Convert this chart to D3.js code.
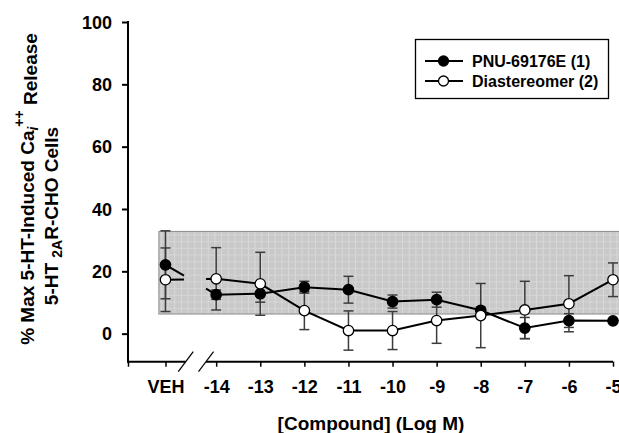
<!DOCTYPE html>
<html>
<head>
<meta charset="utf-8">
<script src="https://cdn.jsdelivr.net/npm/d3@7"></script>
<style>
  html, body { margin: 0; padding: 0; background: #fff; }
  svg { display: block; }
  text { font-family: "Liberation Sans", Arial, Helvetica, sans-serif; font-weight: bold; fill: #000; }
</style>
</head>
<body>
<svg id="chart" width="619" height="433"></svg>
<script>
// ---- data ----
const xLabels = ["VEH", "-14", "-13", "-12", "-11", "-10", "-9", "-8", "-7", "-6", "-5"];
const xPos    = [-15.15, -14, -13, -12, -11, -10, -9, -8, -7, -6, -5];
const pnuMean = [22.1, 12.5, 12.8, 14.9, 14.1, 10.3, 10.9, 7.5, 1.8, 4.2, 4.1];
const pnuErr  = [10.9, 1.5, 2.7, 1.9, 4.3, 2.1, 2.4, 1.0, 3.4, 2.2, 0.5];
const diaMean = [17.3, 17.6, 16.0, 7.4, 1.0, 1.0, 4.2, 5.8, 7.6, 9.6, 17.3];
const diaErr  = [10.2, 10.0, 10.1, 6.1, 6.3, 6.1, 7.3, 10.3, 9.2, 9.0, 5.4];
const yTicks  = [0, 20, 40, 60, 80, 100];
const bandY   = [6.3, 32.8];
const bandX   = [-15.3, -4.8];
const axisBreak = [-14.69, -14.23];
const seriesNames = ["PNU-69176E (1)", "Diastereomer (2)"];

// ---- layout ----
const svg = d3.select("#chart");
const x = d3.scaleLinear().domain([-16, -5]).range([128, 613]);
const y = d3.scaleLinear().domain([-9, 100]).range([361.7, 22]);

// pattern for band
const defs = svg.append("defs");
const pat = defs.append("pattern").attr("id", "grid").attr("patternUnits", "userSpaceOnUse")
  .attr("width", 6.7).attr("height", 6.7);
pat.append("rect").attr("width", 6.7).attr("height", 6.7).attr("fill", "#c9c9c9");
pat.append("line").attr("x1", 0.5).attr("x2", 0.5).attr("y1", 0).attr("y2", 6.7).attr("stroke", "#d9d9d9").attr("stroke-width", 1);
pat.append("line").attr("x1", 0).attr("x2", 6.7).attr("y1", 0.5).attr("y2", 0.5).attr("stroke", "#d6d6d6").attr("stroke-width", 1);

// band
svg.append("rect")
  .attr("x", x(bandX[0])).attr("y", y(bandY[1]))
  .attr("width", x(bandX[1]) - x(bandX[0]))
  .attr("height", y(bandY[0]) - y(bandY[1]))
  .attr("fill", "url(#grid)")
  .attr("stroke", "#8c8c8c").attr("stroke-width", 1);

// y axis
const yAxis = d3.axisLeft(y).tickValues(yTicks).tickSize(6).tickPadding(10);
const gy = svg.append("g").attr("transform", `translate(${x(-16)},0)`).call(yAxis);
gy.select(".domain").remove();
gy.selectAll(".tick line").attr("stroke", "#000").attr("stroke-width", 2);
gy.selectAll(".tick text").style("font-size", "18px").attr("dy", "0.34em");
svg.append("line").attr("x1", x(-16)).attr("x2", x(-16)).attr("y1", y(100) - 1).attr("y2", y(-9) + 1)
  .attr("stroke", "#000").attr("stroke-width", 2);

// x axis
const tickVals = [-16].concat(xPos);
const labelMap = new Map(xPos.map((p, i) => [p, xLabels[i]]));
const xAxis = d3.axisBottom(x).tickValues(tickVals).tickSize(5).tickPadding(14)
  .tickFormat(d => labelMap.get(d) || "");
const gx = svg.append("g").attr("transform", `translate(0,${y(-9)})`).call(xAxis);
gx.select(".domain").remove();
gx.selectAll(".tick line").attr("stroke", "#000").attr("stroke-width", 1.5);
gx.selectAll(".tick text").style("font-size", "18px");
// axis line with break
svg.append("line").attr("x1", x(-16) - 1).attr("x2", x(axisBreak[0])).attr("y1", y(-9)).attr("y2", y(-9))
  .attr("stroke", "#000").attr("stroke-width", 2);
svg.append("line").attr("x1", x(axisBreak[1])).attr("x2", x(-5)).attr("y1", y(-9)).attr("y2", y(-9))
  .attr("stroke", "#000").attr("stroke-width", 2);
axisBreak.forEach(b => {
  svg.append("line")
    .attr("x1", x(b) - 7.5).attr("y1", y(-9) + 10)
    .attr("x2", x(b) + 7.5).attr("y2", y(-9) - 10)
    .attr("stroke", "#000").attr("stroke-width", 1.2);
});

// series
const series = [
  { name: seriesNames[0], mean: pnuMean, err: pnuErr, fill: "#000" },
  { name: seriesNames[1], mean: diaMean, err: diaErr, fill: "#fff" }
];

// error bars
const capW = 5;
series.forEach(s => {
  const g = svg.append("g");
  xPos.forEach((p, i) => {
    const cx = x(p), top = y(s.mean[i] + s.err[i]), bot = y(s.mean[i] - s.err[i]);
    g.append("line").attr("x1", cx).attr("x2", cx).attr("y1", top).attr("y2", bot)
      .attr("stroke", "#3c3c3c").attr("stroke-width", 1.5);
    [top, bot].forEach(yy => g.append("line").attr("x1", cx - capW).attr("x2", cx + capW)
      .attr("y1", yy).attr("y2", yy).attr("stroke", "#3c3c3c").attr("stroke-width", 1.5));
  });
});

// lines (with break between VEH and -14)
const line = d3.line().x(d => x(d[0])).y(d => y(d[1]));
function interp(p0, v0, p1, v1, p) { return v0 + (v1 - v0) * (p - p0) / (p1 - p0); }
series.forEach(s => {
  const v0 = s.mean[0], v1 = s.mean[1], p0 = xPos[0], p1 = xPos[1];
  const seg1 = [[p0, v0], [axisBreak[0] - 0.04, interp(p0, v0, p1, v1, axisBreak[0] - 0.04)]];
  const seg2 = [[axisBreak[1], interp(p0, v0, p1, v1, axisBreak[1])]]
    .concat(xPos.slice(1).map((p, i) => [p, s.mean[i + 1]]));
  [seg1, seg2].forEach(seg => svg.append("path").attr("d", line(seg))
    .attr("fill", "none").attr("stroke", "#000").attr("stroke-width", 2));
});

// markers
series.forEach(s => {
  svg.append("g").selectAll("circle").data(xPos).join("circle")
    .attr("cx", d => x(d)).attr("cy", (d, i) => y(s.mean[i])).attr("r", 5.2)
    .attr("fill", s.fill).attr("stroke", "#000").attr("stroke-width", 1.3);
});

// legend
const lg = svg.append("g");
lg.append("rect").attr("x", 415.5).attr("y", 39.5).attr("width", 193).attr("height", 59)
  .attr("fill", "#fff").attr("stroke", "#000").attr("stroke-width", 1.3);
series.forEach((s, i) => {
  const yy = 61 + i * 20;
  lg.append("line").attr("x1", 425).attr("x2", 463).attr("y1", yy).attr("y2", yy)
    .attr("stroke", "#000").attr("stroke-width", 2);
  lg.append("circle").attr("cx", 443.5).attr("cy", yy).attr("r", 5)
    .attr("fill", s.fill).attr("stroke", "#000").attr("stroke-width", 1.3);
  lg.append("text").attr("x", 472).attr("y", yy).attr("dy", "0.36em")
    .style("font-size", "16px").text(s.name);
});

// x title
svg.append("text").attr("x", 371).attr("y", 430).attr("text-anchor", "middle")
  .style("font-size", "19px").text("[Compound] (Log M)");

// y titles
const t1 = svg.append("text").attr("transform", "translate(33.5,189) rotate(-90)")
  .attr("text-anchor", "middle").style("font-size", "19px");
t1.append("tspan").text("% Max 5-HT-Induced Ca");
t1.append("tspan").text("i").attr("dy", "0.3em").style("font-size", "14px").style("font-style", "italic");
t1.append("tspan").text("++").attr("dy", "-0.95em").style("font-size", "14px");
t1.append("tspan").text(" Release").attr("dy", "0.65em");

const t2 = svg.append("text").attr("transform", "translate(57.5,216) rotate(-90)")
  .attr("text-anchor", "middle").style("font-size", "19px");
t2.append("tspan").text("5-HT ");
t2.append("tspan").text("2A").attr("dy", "0.3em").style("font-size", "14px");
t2.append("tspan").text("R-CHO Cells").attr("dy", "-0.22em");
</script>
</body>
</html>
